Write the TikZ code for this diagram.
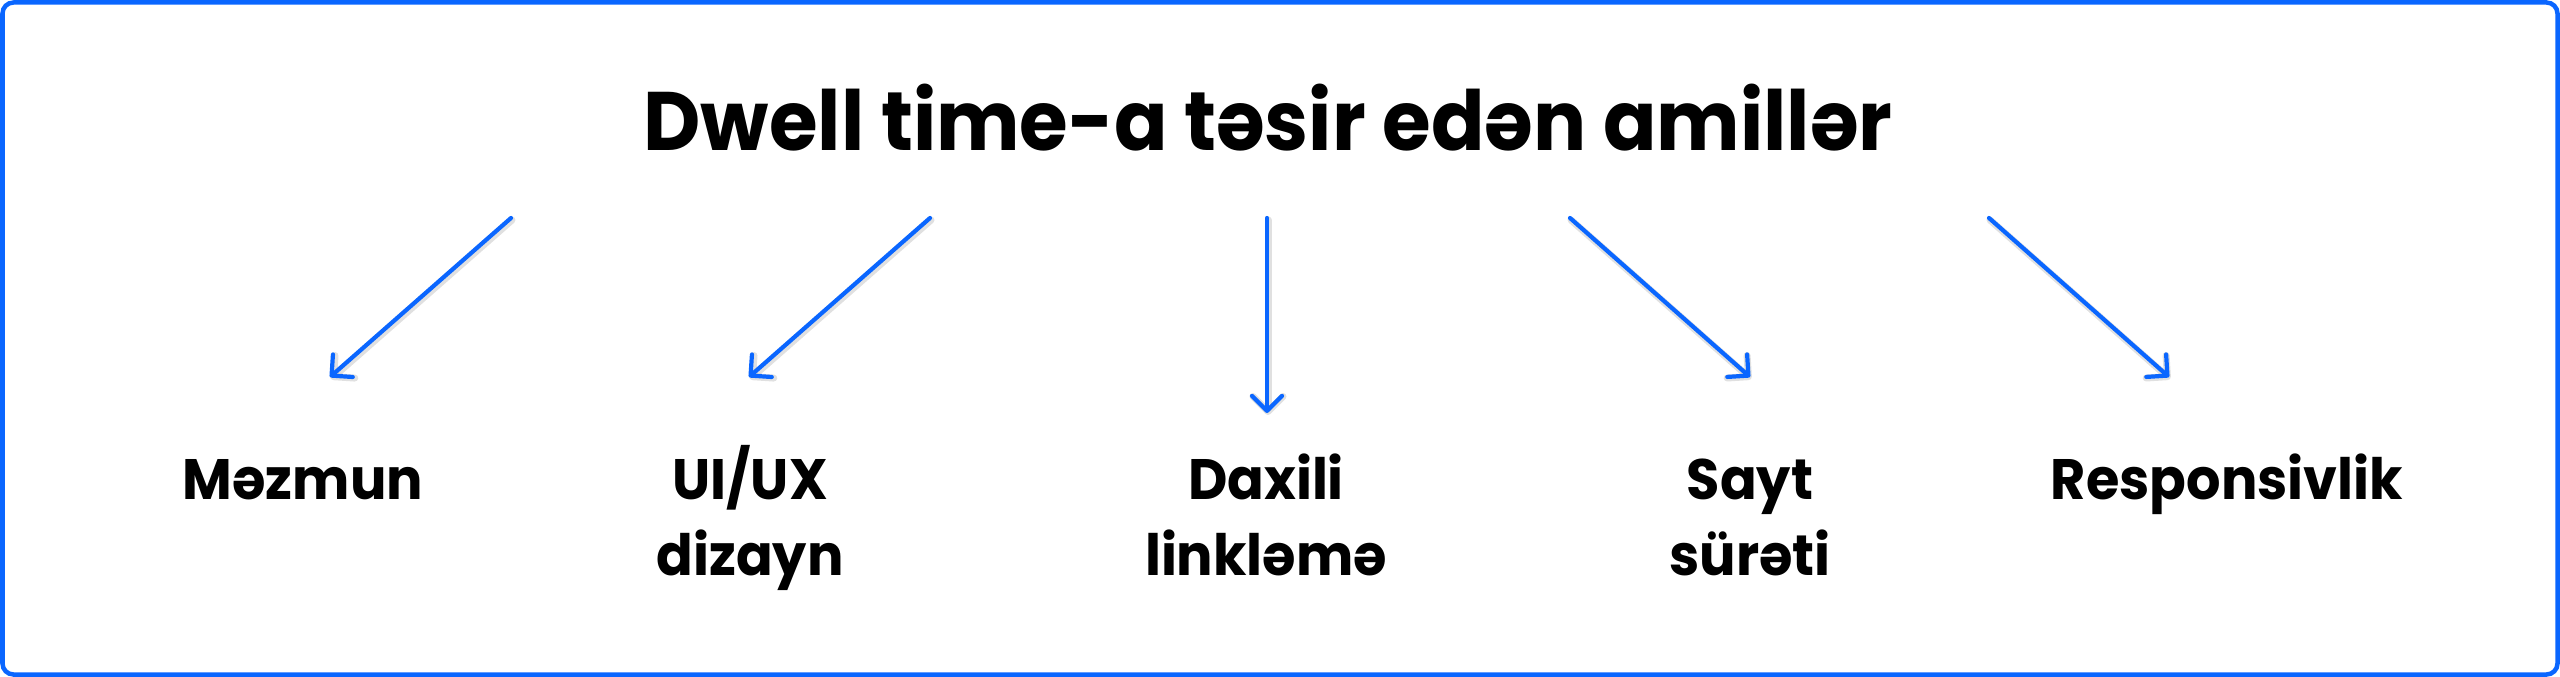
\documentclass[tikz,border=0pt]{standalone}
\usepackage{fontspec}
\setmainfont[FakeStretch=0.95]{Poppins}
\usetikzlibrary{arrows.meta}
\definecolor{brandblue}{RGB}{10,102,255}
\tikzset{
  frame/.style={draw=brandblue, line width=4.5pt, rounded corners=11pt},
  titletext/.style={font=\fontsize{83}{90}\selectfont\bfseries, inner sep=0pt, anchor=base},
  leaf/.style={font=\fontsize{57}{76}\selectfont\bfseries, inner sep=0pt, anchor=base, align=center},
  linkshadow/.style={draw=black, draw opacity=0.12, line width=7pt, line cap=round,
    transform canvas={shift={(1pt,-2pt)}},
    -{Straight Barb[length=15pt,width=30pt,line cap=round,line join=round]}},
  link/.style={draw=brandblue, line width=4.2pt, line cap=round,
    -{Straight Barb[length=15pt,width=30pt,line cap=round,line join=round]}}
}
\begin{document}
\begin{tikzpicture}[x=1pt,y=-1pt]
\useasboundingbox (0,0) rectangle (2560,677);
\draw[frame] (2.5,2.5) rectangle (2557.5,674.5);
\node[titletext] (title) at (1268,150) {Dwell time-a təsir edən amillər};
\node[leaf] (m1) at (303,499) {Məzmun};
\node[leaf] (m2) at (750,575) {UI/UX\\dizayn};
\node[leaf] (m3) at (1266,575) {Daxili\\linkləmə};
\node[leaf] (m4) at (1750,575) {Sayt\\sürəti};
\node[leaf] (m5) at (2227,499) {Responsivlik};
\coordinate (s1) at (511,218); \coordinate (e1) at (330,377);
\coordinate (s2) at (930,218); \coordinate (e2) at (749,377);
\coordinate (s3) at (1267,218); \coordinate (e3) at (1267,413);
\coordinate (s4) at (1570,218); \coordinate (e4) at (1750,377);
\coordinate (s5) at (1989,218); \coordinate (e5) at (2169,377);
\foreach \i in {1,...,5} {
  \draw[linkshadow] (s\i) -- (e\i);
  \draw[link] (s\i) -- (e\i);
}
\end{tikzpicture}
\end{document}
